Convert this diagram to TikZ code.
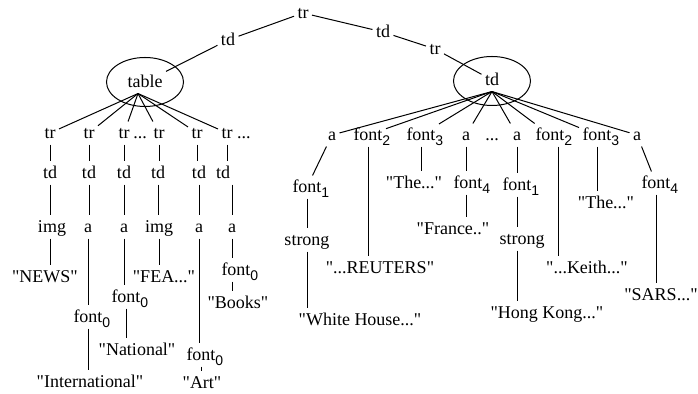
\documentclass[tikz,border=0pt]{standalone}
\usepackage{fontspec}
\setmainfont{Liberation Serif}[Ligatures=TeXOff]
\setsansfont{Liberation Sans}
\usetikzlibrary{shapes.geometric}
\def\fsub#1{font\rlap{\raisebox{-0.55ex}{\sffamily\fontsize{7}{8}\selectfont #1}}}
\def\ringw{38.5pt}
\def\ringh{24.5pt}

\begin{document}
\begin{tikzpicture}[x=0.5pt,y=-0.5pt,line width=0.5pt]
\tikzset{every node/.style={font=\fontsize{9}{11}\selectfont,inner sep=1.5pt,text height=1.5ex,text depth=0.25ex}}
\useasboundingbox (0,0) rectangle (698,394);
% top of the tree
\node (root) at (303,13) {tr};
\node (tdL) at (228,40) {td};
\node (tbl) at (145,82) {table};
\node[draw,ellipse,minimum width=\ringw,minimum height=\ringh] (tblring) at (145,82) {};
\node (tdR) at (383,32) {td};
\node (trR) at (435,49) {tr};
\node (cell) at (492,80) {td};
\node[draw,ellipse,minimum width=\ringw,minimum height=\ringh] (cellring) at (492,81) {};
\coordinate (tblfan) at ([xshift=-3.5pt]tbl.south);
\coordinate (cellfan) at (cell.south);
% rows under the table
\node (trA) at (50,133) {tr};
\node (trB) at (89,133) {tr};
\node (trC) at (124,133) {tr};
\node (moreA) at (140,133) {...};
\node (trD) at (159,133) {tr};
\node (trE) at (197,133) {tr};
\node (trF) at (227,133) {tr};
\node (moreB) at (244,133) {...};
\node (tdA) at (50,173) {td};
\node (tdB) at (89,173) {td};
\node (tdC) at (124,173) {td};
\node (tdD) at (158,173) {td};
\node (tdE) at (199,173) {td};
\node (tdF) at (223,173) {td};
\node (imgA) at (52,227) {img};
\node (aB) at (88,227) {a};
\node (aC) at (124,227) {a};
\node (imgD) at (159,227) {img};
\node (aE) at (199,227) {a};
\node (aF) at (232,227) {a};
\node (news) at (45,277) {"NEWS"};
\node (fea) at (164,277) {"FEA..."};
\node (fontF) at (236,270) {\fsub{0}};
\node (books) at (238,303) {"Books"};
\node (fontC) at (126,297) {\fsub{0}};
\node (national) at (137,350) {"National"};
\node (fontB) at (88,317) {\fsub{0}};
\node (intl) at (90,382) {"International"};
\node (fontE) at (201,355) {\fsub{0}};
\node (art) at (202,383) {"Art"};
% rows under the cell
\node (aR1) at (332,135) {a};
\node (f2a) at (368,135) {\fsub{2}};
\node (f3a) at (421,135) {\fsub{3}};
\node (aR4) at (466,135) {a};
\node (moreC) at (492,135) {...};
\node (aR6) at (517,135) {a};
\node (f2b) at (550,135) {\fsub{2}};
\node (f3b) at (597,135) {\fsub{3}};
\node (aR9) at (637,135) {a};
\node (font1a) at (307,187) {\fsub{1}};
\node (strongA) at (307,240) {strong};
\node (white) at (360,320) {"White House..."};
\node (reuters) at (380,268) {"...REUTERS"};
\node (theA) at (414,183) {"The..."};
\node (font4a) at (468,183) {\fsub{4}};
\node (france) at (453,229) {"France.."};
\node (font1b) at (517,185) {\fsub{1}};
\node (strongB) at (522,239) {strong};
\node (hk) at (547,313) {"Hong Kong..."};
\node (keith) at (587,268) {"...Keith..."};
\node (theB) at (606,203) {"The..."};
\node (font4b) at (656,183) {\fsub{4}};
\node (sars) at (661,295) {"SARS..."};
% connectors
\draw (root) -- (tdL);
\draw (tdL) -- (tbl);
\draw (root) -- (tdR);
\draw (tdR) -- (trR);
\draw (trR) -- (cell);
\foreach \c in {trA,trB,trC,trD,trE,trF}
  \draw (tblfan) -- (\c);
\foreach \c in {aR1,f2a,f3a,aR4,aR6,f2b,f3b,aR9}
  \draw (cellfan) -- (\c);
\draw (trA) -- (trA |- tdA.north);
\draw (tdA) -- (tdA |- imgA.north);
\draw (imgA.south -| tdA) -- (tdA |- news.north);
\draw (trB) -- (trB |- tdB.north);
\draw (tdB) -- (tdB |- aB.north);
\draw (aB) -- (aB |- fontB.north);
\draw (fontB) -- (fontB |- intl.north);
\draw (trC) -- (trC |- tdC.north);
\draw (tdC) -- (tdC |- aC.north);
\draw (aC) -- (aC |- fontC.north);
\draw (fontC) -- (fontC |- national.north);
\draw (trD) -- (trD |- tdD.north);
\draw (tdD) -- (tdD |- imgD.north);
\draw (imgD) -- (imgD |- fea.north);
\draw (trE) -- (trE |- tdE.north);
\draw (tdE) -- (tdE |- aE.north);
\draw (aE) -- (aE |- fontE.north);
\draw (fontE) -- (fontE |- art.north);
\draw (trF) -- (trF |- tdF.north);
\draw (tdF.south -| aF) -- (aF);
\draw (aF) -- (aF |- fontF.north);
\draw (fontF.south -| aF) -- (aF |- books.north);
\draw (aR1) -- (font1a);
\draw (font1a) -- (font1a |- strongA.north);
\draw (strongA) -- (strongA |- white.north);
\draw (f2a) -- (f2a |- reuters.north);
\draw (f3a) -- (f3a |- theA.north);
\draw (aR4) -- (aR4 |- font4a.north);
\draw (font4a.south -| aR4) -- (aR4 |- france.north);
\draw (aR6) -- (aR6 |- font1b.north);
\draw (font1b) -- (font1b |- strongB.north);
\draw (strongB.south -| font1b) -- (font1b |- hk.north);
\draw ([xshift=4pt]f2b.south) -- ([xshift=4pt]f2b.south |- keith.north);
\draw (f3b) -- (f3b |- theB.north);
\draw (aR9) -- (font4b);
\draw (font4b) -- (font4b |- sars.north);
\end{tikzpicture}
\end{document}
